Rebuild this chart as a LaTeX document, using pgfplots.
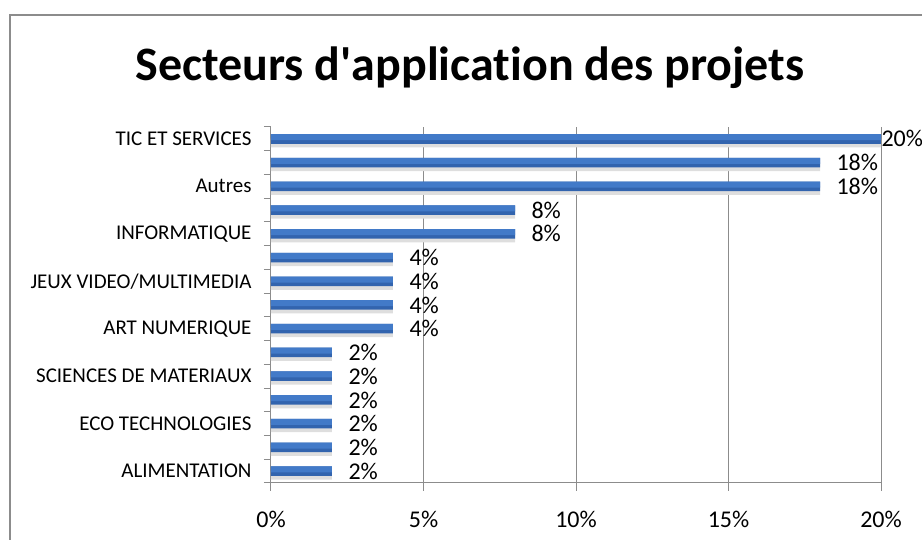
\documentclass[border=0pt]{standalone}
\usepackage{pgfplots}
\pgfplotsset{compat=1.18}
\usepackage{fontspec}
\setmainfont{Carlito}[Ligatures={NoCommon}]

\definecolor{barblue}{RGB}{50,100,174}
\definecolor{barlight}{RGB}{66,122,200}
\definecolor{barshadow}{RGB}{222,222,222}
\definecolor{axgray}{RGB}{140,140,140}

\begin{document}
\begin{tikzpicture}[x=1pt,y=1pt]
\useasboundingbox (0,0) rectangle (922,540);
\draw[axgray, line width=1.2pt] (10,0) |- (922,525);
\node[font=\fontsize{48}{52}\selectfont\bfseries] at (470,472) {Secteurs d\textquotesingle application des projets};

\begin{axis}[
  at={(271pt,57pt)}, anchor=south west,
  scale only axis,
  width=610pt, height=356pt,
  xbar,
  xmin=0, xmax=20,
  ymin=0.5, ymax=15.5,
  axis x line*=bottom, axis y line*=left,
  axis line style={axgray, line width=1pt},
  xtick={0,5,10,15,20},
  xticklabels={0\%,5\%,10\%,15\%,20\%},
  xmajorgrids,
  grid style={axgray, line width=1pt},
  major x tick style={axgray, line width=1pt},
  tick align=outside,
  major tick length=8pt,
  x tick label style={font=\fontsize{24}{26}\selectfont, yshift=-17pt},
  ytick={1,...,15},
  yticklabels={ALIMENTATION,,ECO TECHNOLOGIES,,SCIENCES DE MATERIAUX,,ART NUMERIQUE,,JEUX VIDEO/MULTIMEDIA,,INFORMATIQUE,,Autres,,TIC ET SERVICES},
  y tick label style={font=\fontsize{21}{23}\selectfont, xshift=-8pt},
  major y tick style={draw=none},
  minor ytick={0.5,1.5,...,15.5},
  minor y tick style={axgray, line width=1pt},
  minor tick length=7pt,
  every node near coord/.append style={font=\fontsize{24}{26}\selectfont, anchor=west, black},
  clip=false,
]
% soft shadow below each bar
\addplot[draw=none, fill=barshadow, bar width=9pt, bar shift=-4pt] coordinates {
  (2,1) (2,2) (2,3) (2,4) (2,5) (2,6)
  (4,7) (4,8) (4,9) (4,10)
  (8,11) (8,12)
  (18,13) (18,14) (20,15)
};
% bars
\addplot[draw=none, fill=barblue, bar width=9.5pt, bar shift=0pt,
  nodes near coords={\pgfmathprintnumber[assume math mode=true]{\pgfplotspointmeta}\%},
  every node near coord/.append style={xshift=13pt}] coordinates {
  (2,1) (2,2) (2,3) (2,4) (2,5) (2,6)
  (4,7) (4,8) (4,9) (4,10)
  (8,11) (8,12)
  (18,13) (18,14)
};
\addplot[draw=none, fill=barblue, bar width=9.5pt, bar shift=0pt,
  nodes near coords={\pgfmathprintnumber[assume math mode=true]{\pgfplotspointmeta}\%},
  every node near coord/.append style={xshift=-3pt}] coordinates {
  (20,15)
};
% lighter upper part of each bar
\addplot[draw=none, fill=barlight, bar width=6pt, bar shift=1.75pt] coordinates {
  (2,1) (2,2) (2,3) (2,4) (2,5) (2,6)
  (4,7) (4,8) (4,9) (4,10)
  (8,11) (8,12)
  (18,13) (18,14) (20,15)
};
\end{axis}
\end{tikzpicture}
\end{document}
